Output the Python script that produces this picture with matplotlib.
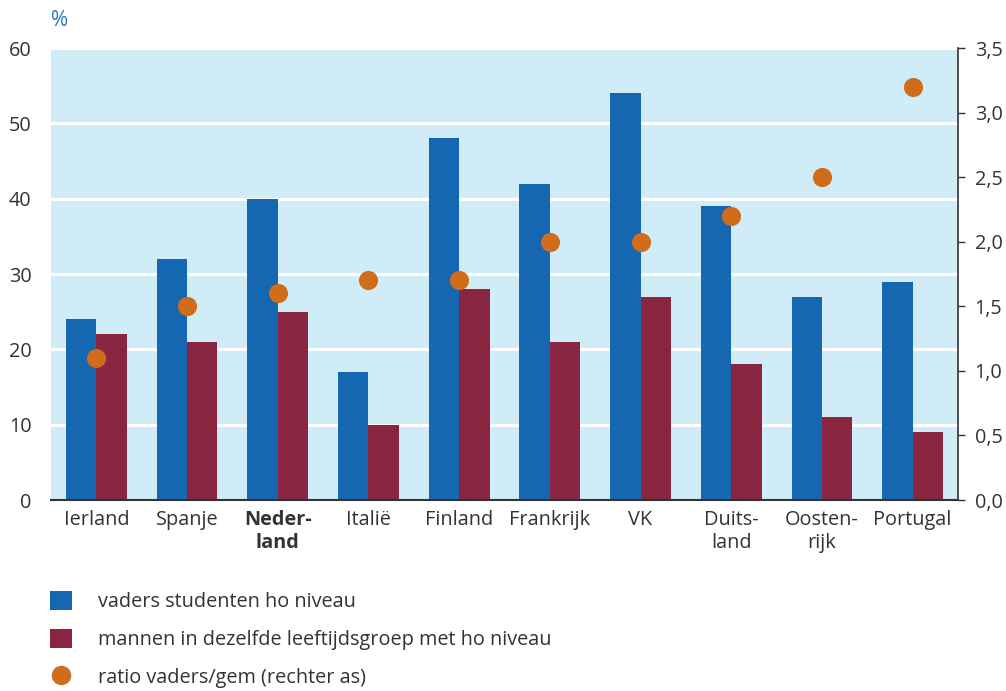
import matplotlib
matplotlib.use("Agg")
import matplotlib.pyplot as plt
import numpy as np
from matplotlib.lines import Line2D
from matplotlib.patches import Patch

countries = ["Ierland", "Spanje", "Neder-\nland", "Italië", "Finland",
             "Frankrijk", "VK", "Duits-\nland", "Oosten-\nrijk", "Portugal"]
vaders = [24, 32, 40, 17, 48, 42, 54, 39, 27, 29]
mannen = [22, 21, 25, 10, 28, 21, 27, 18, 11, 9]
ratio = [1.1, 1.5, 1.6, 1.7, 1.7, 2.0, 2.0, 2.2, 2.5, 3.2]
left_ticks = [0, 10, 20, 30, 40, 50, 60]
right_ticks = [0.0, 0.5, 1.0, 1.5, 2.0, 2.5, 3.0, 3.5]

BLUE = "#1567b1"
RED = "#8a2541"
ORANGE = "#d06c1a"
BG = "#d0ecf6"
TEXT = "#333333"
FS = 14.3

plt.rcParams["font.family"] = ["Open Sans", "DejaVu Sans"]
plt.rcParams["font.size"] = FS

fig = plt.figure(figsize=(10.06, 6.91), dpi=100)
ax = fig.add_axes([0.0507, 0.2764, 0.9016, 0.6541])
ax.set_facecolor(BG)

x = np.arange(len(countries))
w = 0.335
ax.bar(x - w / 2, vaders, width=w, color=BLUE, zorder=3)
ax.bar(x + w / 2, mannen, width=w, color=RED, zorder=3)
ax.set_xlim(-0.5, len(countries) - 0.5)
ax.set_ylim(0, 60)
ax.set_yticks(left_ticks)
ax.set_yticklabels([str(t) for t in left_ticks], color=TEXT, fontsize=FS)
ax.yaxis.grid(True, color="white", linewidth=2.2, zorder=1)
ax.set_axisbelow(True)
ax.tick_params(axis="y", length=0, pad=14)
ax.set_xticks(x)
ax.set_xticklabels(countries, color=TEXT, fontsize=FS, linespacing=1.25)
ax.tick_params(axis="x", length=0, pad=7)
for lbl in ax.get_xticklabels():
    if lbl.get_text().startswith("Neder"):
        lbl.set_fontweight("bold")
for s in ["top", "left", "right"]:
    ax.spines[s].set_visible(False)
ax.spines["bottom"].set_color(TEXT)
ax.spines["bottom"].set_linewidth(1.5)
ax.spines["bottom"].set_zorder(5)

ax2 = ax.twinx()
ax2.scatter(x, ratio, s=190, color=ORANGE, zorder=6, linewidths=0)
ax2.set_ylim(0, 3.5)
ax2.set_yticks(right_ticks)
ax2.set_yticklabels([f"{t:.1f}".replace(".", ",") for t in right_ticks],
                    color=TEXT, fontsize=FS)
ax2.tick_params(axis="y", length=5, width=1, color=TEXT, pad=7)
for s in ["top", "left", "bottom"]:
    ax2.spines[s].set_visible(False)
ax2.spines["right"].set_color(TEXT)
ax2.spines["right"].set_linewidth(1.2)

fig.text(0.0507, 0.970, "%", color="#2a78c2", fontsize=15, va="center", ha="left")

handles = [
    Patch(facecolor=BLUE, edgecolor="none"),
    Patch(facecolor=RED, edgecolor="none"),
    Line2D([], [], marker="o", linestyle="none", color=ORANGE, markersize=13),
]
labels = [
    "vaders studenten ho niveau",
    "mannen in dezelfde leeftijdsgroep met ho niveau",
    "ratio vaders/gem (rechter as)",
]
fig.legend(handles, labels, loc="upper left", bbox_to_anchor=(0.050, 0.145),
           frameon=False, fontsize=FS, handlelength=1.1, handleheight=1.1,
           handletextpad=1.3, labelspacing=0.84, borderaxespad=0, borderpad=0,
           labelcolor=TEXT)

fig.savefig("out.png", dpi=100)
